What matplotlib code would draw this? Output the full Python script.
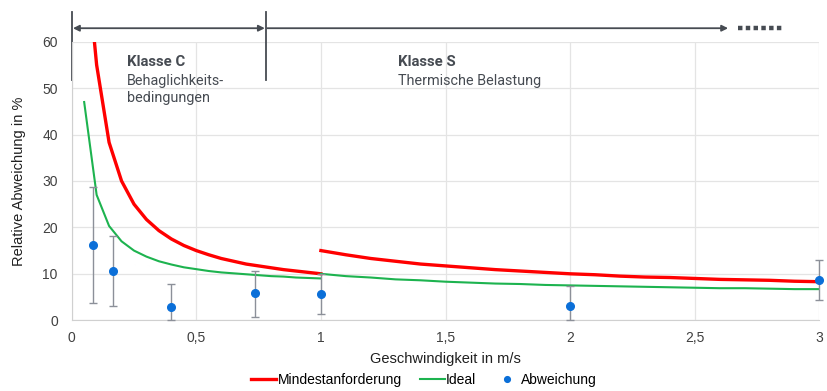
import numpy as np
import matplotlib
matplotlib.use("Agg")
import matplotlib.pyplot as plt

# Klasse C segment (v < 1 m/s)
v_c_red = [0.09, 0.1, 0.15, 0.2, 0.25, 0.3, 0.35, 0.4, 0.45, 0.5, 0.55, 0.6,
           0.65, 0.7, 0.75, 0.8, 0.85, 0.9, 0.95, 1.0]
mindest_c = [60.6, 55, 38.3, 30, 25, 21.7, 19.3, 17.5, 16.1, 15, 14.1, 13.3,
             12.7, 12.1, 11.7, 11.3, 10.9, 10.6, 10.3, 10.0]
v_c_green = [0.05, 0.1, 0.15, 0.2, 0.25, 0.3, 0.35, 0.4, 0.45, 0.5, 0.55, 0.6,
             0.65, 0.7, 0.75, 0.8, 0.85, 0.9, 0.95, 1.0]
ideal_c = [47, 27, 20.3, 17, 15, 13.7, 12.7, 12, 11.4, 11, 10.6, 10.3,
           10.1, 9.9, 9.7, 9.5, 9.4, 9.2, 9.1, 9.0]

# Klasse S segment (v >= 1 m/s)
v_s = [1.0, 1.1, 1.2, 1.3, 1.4, 1.5, 1.6, 1.7, 1.8, 1.9, 2.0, 2.1, 2.2, 2.3,
       2.4, 2.5, 2.6, 2.7, 2.8, 2.9, 3.0]
mindest_s = [15, 14.1, 13.3, 12.7, 12.1, 11.7, 11.3, 10.9, 10.6, 10.3, 10.0,
             9.8, 9.5, 9.3, 9.2, 9.0, 8.8, 8.7, 8.6, 8.4, 8.3]
ideal_s = [10, 9.5, 9.2, 8.8, 8.6, 8.3, 8.1, 7.9, 7.8, 7.6, 7.5, 7.4, 7.3,
           7.2, 7.1, 7.0, 6.9, 6.9, 6.8, 6.7, 6.7]

# measured deviations with min/max range
v_pts = [0.087, 0.167, 0.398, 0.735, 1.0, 2.0, 3.0]
abweichung = [16.1, 10.6, 2.8, 5.8, 5.6, 3.0, 8.6]
abw_min = [3.7, 3.1, 0.0, 0.65, 1.35, 0.0, 4.3]
abw_max = [28.7, 18.1, 7.9, 10.7, 10.0, 7.3, 12.9]

x_ticks = [0, 0.5, 1, 1.5, 2, 2.5, 3]
x_ticklabels = ["0", "0,5", "1", "1,5", "2", "2,5", "3"]
y_ticks = [0, 10, 20, 30, 40, 50, 60]

RED = "#ff0000"
GREEN = "#1db34f"
BLUE = "#0b6fd8"
GREY = "#464b52"
TXT = "#404040"

plt.rcParams["font.family"] = ["Liberation Sans", "DejaVu Sans"]

fig = plt.figure(figsize=(8.28, 3.91), dpi=100)
ax = fig.add_axes([0.0866, 0.181, 0.9029, 0.7124])

ax.plot(v_c_red, mindest_c, color=RED, lw=2.4, label="Mindestanforderung")
ax.plot(v_s, mindest_s, color=RED, lw=2.4)
ax.plot(v_c_green, ideal_c, color=GREEN, lw=1.5, label="Ideal")
ax.plot(v_s, ideal_s, color=GREEN, lw=1.5)

y = np.array(abweichung)
yerr = [y - np.array(abw_min), np.array(abw_max) - y]
ax.errorbar(v_pts, abweichung, yerr=yerr, fmt="none", ecolor="#8c9099",
            elinewidth=1, capsize=3, capthick=1, zorder=3, clip_on=False)
ax.plot(v_pts, abweichung, "o", color=BLUE, ms=5.5, ls="none",
        label="Abweichung", zorder=4, clip_on=False)

ax.set_xlim(0, 3)
ax.set_ylim(0, 60)
ax.set_xticks(x_ticks)
ax.set_xticklabels(x_ticklabels)
ax.set_yticks(y_ticks)
ax.grid(True, color="#e4e4e4", lw=0.9)
ax.set_axisbelow(True)
for s in ["top", "right"]:
    ax.spines[s].set_visible(False)
for s in ["left", "bottom"]:
    ax.spines[s].set_color("#d0d0d0")
ax.tick_params(length=0, labelsize=10, labelcolor=TXT)
ax.tick_params(axis="x", pad=8)
ax.tick_params(axis="y", pad=10)
ax.set_xlabel("Geschwindigkeit in m/s", fontsize=10.5, color="#202020", labelpad=5)
ax.set_ylabel("Relative Abweichung in %", fontsize=10.5, color="#202020", labelpad=12)

# class annotations above the plot
x_split = 0.78
y_arr = 62.9
ax.plot([0, 0], [51.8, 66.5], color=GREY, lw=1.3, clip_on=False)
ax.plot([x_split, x_split], [51.8, 66.5], color=GREY, lw=1.3, clip_on=False)
ax.annotate("", xy=(0.005, y_arr), xytext=(x_split - 0.005, y_arr),
            arrowprops=dict(arrowstyle="<|-|>", color=GREY, lw=1.3,
                            mutation_scale=9, shrinkA=0, shrinkB=0),
            annotation_clip=False)
ax.annotate("", xy=(x_split + 0.005, y_arr), xytext=(2.634, y_arr),
            arrowprops=dict(arrowstyle="<|-", color=GREY, lw=1.3,
                            mutation_scale=9, shrinkA=0, shrinkB=0),
            annotation_clip=False)
ax.plot([2.673, 2.85], [y_arr, y_arr], color=GREY, lw=3.2,
        ls=(0, (1, 0.75)), solid_capstyle="butt", dash_capstyle="butt", clip_on=False)

ann_font = ["Roboto", "DejaVu Sans"]
fs_ann = 10.4
ax.text(0.22, 54.8, "Klasse C", fontsize=fs_ann + 0.3, fontweight="bold", color=GREY,
        family=ann_font, va="baseline")
ax.text(0.22, 50.6, "Behaglichkeits-", fontsize=fs_ann, color=GREY,
        family=ann_font, va="baseline")
ax.text(0.22, 46.9, "bedingungen", fontsize=fs_ann, color=GREY,
        family=ann_font, va="baseline")
ax.text(1.31, 54.8, "Klasse S", fontsize=fs_ann + 0.3, fontweight="bold", color=GREY,
        family=ann_font, va="baseline")
ax.text(1.31, 50.6, "Thermische Belastung", fontsize=fs_ann, color=GREY,
        family=ann_font, va="baseline")

fig.legend(loc="lower center", bbox_to_anchor=(0.512, -0.022), ncol=3,
           frameon=False, fontsize=10, handlelength=1.8, handletextpad=0.1,
           columnspacing=1.3, markerscale=0.75)

fig.savefig("out.png", dpi=100)
